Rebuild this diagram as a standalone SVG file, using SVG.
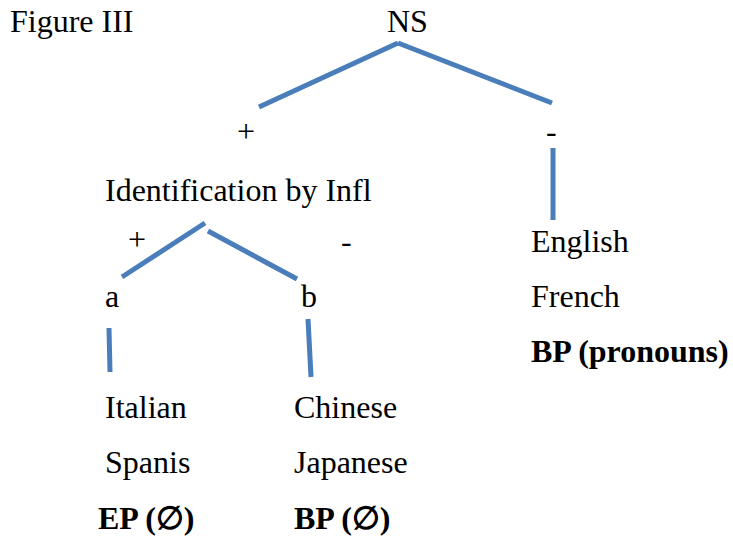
<svg xmlns="http://www.w3.org/2000/svg" width="733" height="538" viewBox="0 0 733 538">
<style>
text{font-family:"Liberation Serif","Times New Roman",serif;font-size:32px;fill:#000}
.b{font-weight:bold}
.e{stroke:#4a7ebb;stroke-width:5;fill:none;stroke-linecap:butt}
</style>
<rect width="733" height="538" fill="#fff"/>
<text x="10" y="32">Figure III</text>
<g id="connectors">
<line class="e" x1="259" y1="107" x2="398" y2="43"/>
<line class="e" x1="398" y1="43" x2="552" y2="103"/>
<line class="e" x1="553" y1="148" x2="553" y2="220"/>
<line class="e" x1="122" y1="277" x2="205" y2="223"/>
<line class="e" x1="208" y1="231" x2="297" y2="279"/>
<line class="e" x1="109" y1="328" x2="110" y2="372"/>
<line class="e" x1="308" y1="319" x2="311" y2="377"/>
</g>
<g id="ns"><text x="387" y="32">NS</text></g>
<g id="plus1"><text x="237" y="142">+</text></g>
<g id="minus1"><text x="546" y="142">-</text></g>
<g id="infl"><text x="105" y="201">Identification by Infl</text></g>
<g id="plus2"><text x="128" y="250">+</text></g>
<g id="minus2"><text x="341" y="252">-</text></g>
<g id="a"><text x="105" y="307">a</text></g>
<g id="b"><text x="301" y="307">b</text></g>
<g id="english">
<text x="531" y="252">English</text>
<text x="531" y="307">French</text>
<text class="b" x="531" y="362">BP (pronouns)</text>
</g>
<g id="italian">
<text x="105" y="418">Italian</text>
<text x="105" y="473">Spanis</text>
<text class="b" x="98" y="529">EP (∅)</text>
</g>
<g id="chinese">
<text x="294" y="418">Chinese</text>
<text x="294" y="473">Japanese</text>
<text class="b" x="294" y="529">BP (∅)</text>
</g>
</svg>
